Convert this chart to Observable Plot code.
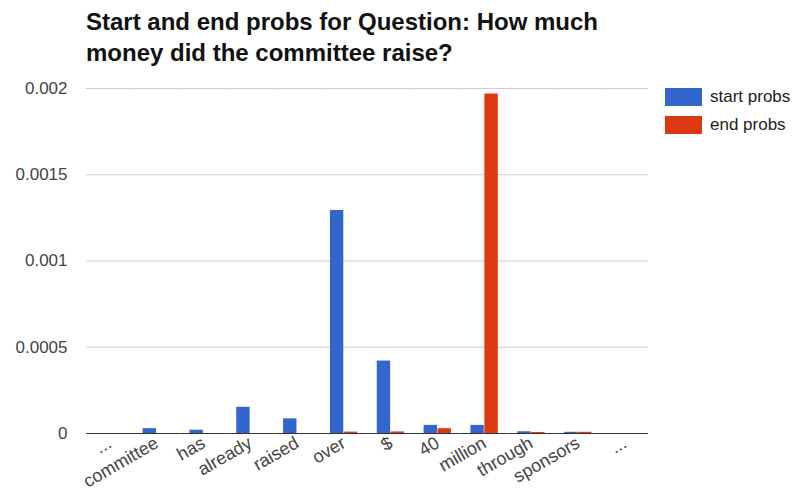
<!DOCTYPE html>
<html>
<head>
<meta charset="utf-8">
<script src="https://cdn.jsdelivr.net/npm/d3@7"></script>
<script src="https://cdn.jsdelivr.net/npm/@observablehq/plot@0.6"></script>
<style>
  html, body { margin: 0; padding: 0; background: #fff; }
  #wrap { position: relative; width: 800px; height: 503px; font-family: "Liberation Sans", Arial, sans-serif; }
  #title { position: absolute; left: 86px; top: 6px; font-size: 24px; font-weight: bold; line-height: 31px; color: #111; }
  #legend { position: absolute; left: 665px; top: 88px; font-size: 17px; color: #222; }
  .item { display: flex; align-items: center; height: 18px; margin-bottom: 10px; }
  .sw { width: 37px; height: 18px; margin-right: 8px; }
  #chart { position: absolute; left: 0; top: 0; }
  #chart svg g[aria-label="fx-axis tick label"] text, #chart svg g[aria-label="fx-axis"] text { font-size: 18px; }
</style>
</head>
<body>
<div id="wrap">
  <div id="chart"></div>
  <div id="title"></div>
  <div id="legend"></div>
</div>
<script>
const titleLines = ["Start and end probs for Question: How much", "money did the committee raise?"];
const tokens = ["...", "committee", "has", "already", "raised", "over", "$", "40", "million", "through", "sponsors", "..."];
const series = ["start probs", "end probs"];
const colors = ["#3366cc", "#dc3912"];
const startProbs = [0, 0.000028, 0.000019, 0.000152, 0.000085, 0.001293, 0.00042, 0.000047, 0.000047, 0.00001, 0.000007, 0];
const endProbs   = [0, 0, 0, 0, 0, 0.000008, 0.000009, 0.000028, 0.001968, 0.000006, 0.000007, 0];
const yTicks = [0, 0.0005, 0.001, 0.0015, 0.002];

const data = [];
tokens.forEach((t, i) => {
  data.push({idx: i, series: series[0], value: startProbs[i]});
  data.push({idx: i, series: series[1], value: endProbs[i]});
});

document.getElementById("title").innerHTML = titleLines.map(l => `<div>${l}</div>`).join("");
document.getElementById("legend").innerHTML = series.map((s, i) =>
  `<div class="item"><div class="sw" style="background:${colors[i]}"></div><span>${s}</span></div>`).join("");

const chart = Plot.plot({
  width: 800,
  height: 503,
  marginLeft: 86,
  marginRight: 152,
  marginTop: 88,
  marginBottom: 70,
  style: {fontFamily: "Liberation Sans, Arial, sans-serif", fontSize: "17px", color: "#444", background: "#fff"},
  fx: {domain: d3.range(tokens.length), padding: 0, round: false, tickFormat: i => tokens[i], tickRotate: -30, tickSize: 0, tickPadding: 8, label: null},
  x: {domain: series, axis: null, round: false, paddingInner: 0.04, paddingOuter: 0.7},
  y: {domain: [0, 0.002], ticks: yTicks, tickFormat: d => String(d), tickSize: 0, tickPadding: 19, label: null},
  color: {domain: series, range: colors},
  marks: [
    Plot.ruleY(yTicks.slice(1), {stroke: "#cccccc", strokeWidth: 1}),
    Plot.barY(data, {fx: "idx", x: "series", y: "value", fill: "series"}),
    Plot.ruleY([0], {stroke: "#333333", strokeWidth: 1})
  ]
});
document.getElementById("chart").appendChild(chart);
</script>
</body>
</html>
